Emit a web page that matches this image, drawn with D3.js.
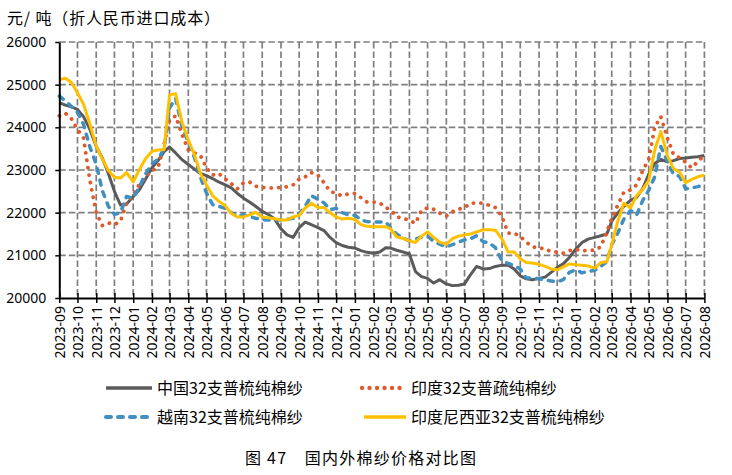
<!DOCTYPE html>
<html>
<head>
<meta charset="utf-8">
<script src="https://cdn.jsdelivr.net/npm/d3@7"></script>
<style>
  body { margin: 0; background: #fff; }
  svg { display: block; }
</style>
</head>
<body>
<div id="chart"></div>
<script>
// dates of the readings (about every 10 days)
const dates = [
  "2023-09-01","2023-09-11","2023-09-21","2023-10-01","2023-10-11","2023-10-21",
  "2023-11-01","2023-11-11","2023-11-21","2023-12-01","2023-12-11","2023-12-21",
  "2024-01-01","2024-01-11","2024-01-21","2024-02-01","2024-02-11","2024-02-21",
  "2024-03-01","2024-03-11","2024-03-21","2024-04-01","2024-04-11","2024-04-21",
  "2024-05-01","2024-05-11","2024-05-21","2024-06-01","2024-06-11","2024-06-21",
  "2024-07-01","2024-07-11","2024-07-21","2024-08-01","2024-08-11","2024-08-21",
  "2024-09-01","2024-09-11","2024-09-21","2024-10-01","2024-10-11","2024-10-21",
  "2024-11-01","2024-11-11","2024-11-21","2024-12-01","2024-12-11","2024-12-21",
  "2025-01-01","2025-01-11","2025-01-21","2025-02-01","2025-02-11","2025-02-21",
  "2025-03-01","2025-03-11","2025-03-21","2025-04-01","2025-04-11","2025-04-21",
  "2025-05-01","2025-05-11","2025-05-21","2025-06-01","2025-06-11","2025-06-21",
  "2025-07-01","2025-07-11","2025-07-21","2025-08-01","2025-08-11","2025-08-21",
  "2025-09-01","2025-09-11","2025-09-21","2025-10-01","2025-10-11","2025-10-21",
  "2025-11-01","2025-11-11","2025-11-21","2025-12-01","2025-12-11","2025-12-21",
  "2026-01-01","2026-01-11","2026-01-21","2026-02-01","2026-02-11","2026-02-21",
  "2026-03-01","2026-03-11","2026-03-21","2026-04-01","2026-04-11","2026-04-21",
  "2026-05-01","2026-05-11","2026-05-21","2026-06-01","2026-06-11","2026-06-21",
  "2026-07-01","2026-07-11","2026-07-21","2026-08-01"
];

// 元/吨
const chinaYarn = [
  24580,24520,24480, 24420,24250,23970, 23550,23280,22920, 22500,22180,22200,
  22380,22530,22780, 23050,23220,23430, 23540,23400,23250, 23130,23020,22920,
  22870,22800,22720, 22650,22580,22450, 22340,22250,22150, 22030,21960,21860,
  21620,21480,21420, 21650,21780,21720, 21650,21580,21420, 21300,21230,21190,
  21170,21110,21070, 21050,21080,21180, 21170,21120,21080, 21030,20620,20500,
  20460,20350,20430, 20330,20290,20300, 20330,20550,20740, 20680,20690,20740,
  20770,20770,20680, 20520,20450,20430, 20460,20490,20600, 20720,20800,20950,
  21150,21300,21380, 21420,21460,21500, 21800,21990,22150, 22290,22360,22560,
  22900,23150,23250, 23190,23220,23270, 23280,23300,23310, 23340
];
const indiaYarn = [
  24270,24330,24200, 23950,23750,22800, 22000,21700,21760, 21720,21800,22230,
  22420,22660,22840, 22990,23050,23600, 24170,24270,23850, 23470,23400,23340,
  23050,22880,22920, 22790,22680,22560, 22700,22720,22620, 22590,22580,22580,
  22590,22610,22650, 22790,22840,22940, 22880,22700,22500, 22450,22390,22440,
  22450,22350,22250, 22250,22230,22120, 22060,21900,21870, 21820,21750,22060,
  22110,22080,21990, 21920,22020,22080, 22120,22220,22230, 22220,22170,22120,
  21900,21520,21520, 21440,21310,21200, 21170,21160,21080, 21080,21050,21110,
  21140,21100,21120, 21120,21200,21550, 21870,22180,22480, 22530,22650,22980,
  23250,24000,24250, 23750,23360,23290, 23180,23050,23200, 23340
];
const vietnamYarn = [
  24730,24620,24490, 24350,24070,23560, 23130,22520,22150, 21960,22000,22380,
  22340,22600,22900, 23150,23250,23500, 24450,24680,24050, 23650,23300,22830,
  22460,22190,22150, 22100,22000,21910, 21950,21910,21870, 21840,21830,21830,
  21830,21850,21870, 21970,22150,22400, 22310,22230,22070, 22100,22000,21950,
  21940,21830,21790, 21780,21780,21780, 21640,21500,21410, 21340,21380,21430,
  21450,21330,21260, 21200,21250,21310, 21360,21390,21460, 21320,21290,21180,
  20870,20810,20760, 20680,20470,20470, 20450,20420,20400, 20380,20430,20600,
  20660,20590,20620, 20650,20740,20850, 21250,21520,21850, 22050,21940,22280,
  22520,22840,23550, 23200,22900,22850, 22560,22580,22610, 22650
];
const indonesiaYarn = [
  25120,25150,25050, 24810,24540,24100, 23560,23260,22990, 22830,22810,22940,
  22720,23000,23260, 23440,23470,23480, 24760,24790,24150, 23700,23360,22920,
  22650,22400,22270, 22160,21980,21900, 21900,21950,22010, 21900,21880,21860,
  21830,21830,21900, 21940,22110,22220, 22120,22120,22000, 21900,21850,21870,
  21840,21720,21680, 21670,21670,21670, 21620,21430,21400, 21340,21300,21450,
  21550,21420,21310, 21260,21390,21450, 21480,21500,21550, 21600,21600,21590,
  21380,21080,21080, 20920,20830,20820, 20790,20740,20680, 20660,20730,20800,
  20780,20770,20750, 20700,20830,20850, 21250,21800,22220, 22110,22400,22540,
  22750,23470,23900, 23330,23030,22950, 22700,22780,22840, 22880
];

const seriesNames = ["中国32支普梳纯棉纱", "印度32支普疏纯棉纱", "越南32支普梳纯棉纱", "印度尼西亚32支普梳纯棉纱"];
const yTicks = [20000, 21000, 22000, 23000, 24000, 25000, 26000];
const unitLabel = "元/ 吨（折人民币进口成本）";
const caption = "图 47　国内外棉纱价格对比图";

const width = 732;
const height = 475;
const margin = { top: 42, right: 27.6, bottom: 177, left: 59.3 };

const parseDate = d3.timeParse("%Y-%m-%d");
const xDates = dates.map(parseDate);

const series = [
  { name: seriesNames[0], values: chinaYarn,     color: "#5a5a5a", w: 3,   dash: null,      cap: "butt" },
  { name: seriesNames[1], values: indiaYarn,     color: "#e0592b", w: 3.8, dash: "0.1 7.4", cap: "round" },
  { name: seriesNames[2], values: vietnamYarn,   color: "#418fc0", w: 3.5, dash: "5 7",     cap: "round" },
  { name: seriesNames[3], values: indonesiaYarn, color: "#ffc000", w: 3,   dash: null,      cap: "butt" }
];

const svg = d3.select("#chart")
  .append("svg")
  .attr("width", width)
  .attr("height", height);

// scales
const x = d3.scaleTime()
  .domain([parseDate("2023-09-01"), parseDate("2026-08-01")])
  .range([margin.left, width - margin.right]);

const y = d3.scaleLinear()
  .domain([20000, 26000])
  .range([height - margin.bottom, margin.top]);

const monthTicks = d3.timeMonth.range(parseDate("2023-09-01"), parseDate("2026-08-02"));

// grid
const grid = svg.append("g")
  .attr("stroke", "#7f7f7f")
  .attr("stroke-width", 1.7)
  .attr("stroke-dasharray", "6.5 3");

grid.selectAll(".hgrid")
  .data(yTicks.slice(1))
  .join("line")
  .attr("class", "hgrid")
  .attr("x1", margin.left)
  .attr("x2", width - margin.right)
  .attr("y1", d => y(d))
  .attr("y2", d => y(d));

grid.selectAll(".vgrid")
  .data(monthTicks.slice(1))
  .join("line")
  .attr("class", "vgrid")
  .attr("x1", d => x(d))
  .attr("x2", d => x(d))
  .attr("y1", margin.top)
  .attr("y2", height - margin.bottom);

// lines
const line = d3.line()
  .x((d, i) => x(xDates[i]))
  .y(d => y(d));

svg.append("g")
  .selectAll("path")
  .data(series)
  .join("path")
  .attr("fill", "none")
  .attr("stroke", d => d.color)
  .attr("stroke-width", d => d.w)
  .attr("stroke-dasharray", d => d.dash)
  .attr("stroke-linecap", d => d.cap)
  .attr("stroke-linejoin", "round")
  .attr("d", d => line(d.values));

// y axis
svg.append("g")
  .attr("transform", `translate(${margin.left},0)`)
  .call(d3.axisLeft(y).tickValues(yTicks).tickFormat(d3.format("d")).tickSizeInner(4).tickSizeOuter(0).tickPadding(9))
  .call(g => g.select(".domain").attr("stroke", "#000").attr("stroke-width", 2))
  .call(g => g.selectAll(".tick line").attr("stroke", "#000").attr("stroke-width", 1.5))
  .call(g => g.selectAll("text")
    .attr("fill", "#000")
    .style("font", "14px 'Noto Sans', sans-serif"));

// x axis
svg.append("g")
  .attr("transform", `translate(0,${height - margin.bottom})`)
  .call(d3.axisBottom(x).tickValues(monthTicks).tickFormat(d3.timeFormat("%Y-%m")).tickSizeInner(5).tickSizeOuter(0))
  .call(g => g.select(".domain").attr("stroke", "#000").attr("stroke-width", 2))
  .call(g => g.selectAll(".tick line").attr("y1", -5).attr("stroke", "#000").attr("stroke-width", 1.5))
  .call(g => g.selectAll("text")
    .attr("fill", "#000")
    .attr("transform", "rotate(-90)")
    .attr("text-anchor", "end")
    .attr("x", -8)
    .attr("y", 0)
    .attr("dy", "0.35em")
    .style("font", "14px 'Noto Sans', sans-serif"));

// unit label
svg.append("text")
  .attr("x", 7)
  .attr("y", 24)
  .attr("textLength", 213)
  .style("font", "16px 'Noto Sans CJK SC', sans-serif")
  .attr("fill", "#000")
  .text(unitLabel);

// legend
const legendPos = [
  { x: 106, y: 388, tx: 157, len: 46 },
  { x: 362, y: 388, tx: 411, len: 39 },
  { x: 106, y: 417, tx: 157, len: 46 },
  { x: 364, y: 417, tx: 411, len: 42 }
];

const legend = svg.append("g")
  .selectAll("g")
  .data(series)
  .join("g");

legend.append("line")
  .attr("x1", (d, i) => legendPos[i].x)
  .attr("x2", (d, i) => legendPos[i].x + legendPos[i].len)
  .attr("y1", (d, i) => legendPos[i].y)
  .attr("y2", (d, i) => legendPos[i].y)
  .attr("stroke", d => d.color)
  .attr("stroke-width", d => d.w + 0.5)
  .attr("stroke-dasharray", d => d.dash)
  .attr("stroke-linecap", d => d.cap);

legend.append("text")
  .attr("x", (d, i) => legendPos[i].tx)
  .attr("y", (d, i) => legendPos[i].y)
  .attr("dy", "0.35em")
  .attr("fill", "#000")
  .style("font", "16px 'Noto Sans CJK SC', sans-serif")
  .text(d => d.name);

// caption
svg.append("text")
  .attr("x", 245)
  .attr("y", 464)
  .attr("textLength", 231)
  .attr("fill", "#000")
  .style("font", "16px 'Noto Sans CJK SC', sans-serif")
  .text(caption);
</script>
</body>
</html>
